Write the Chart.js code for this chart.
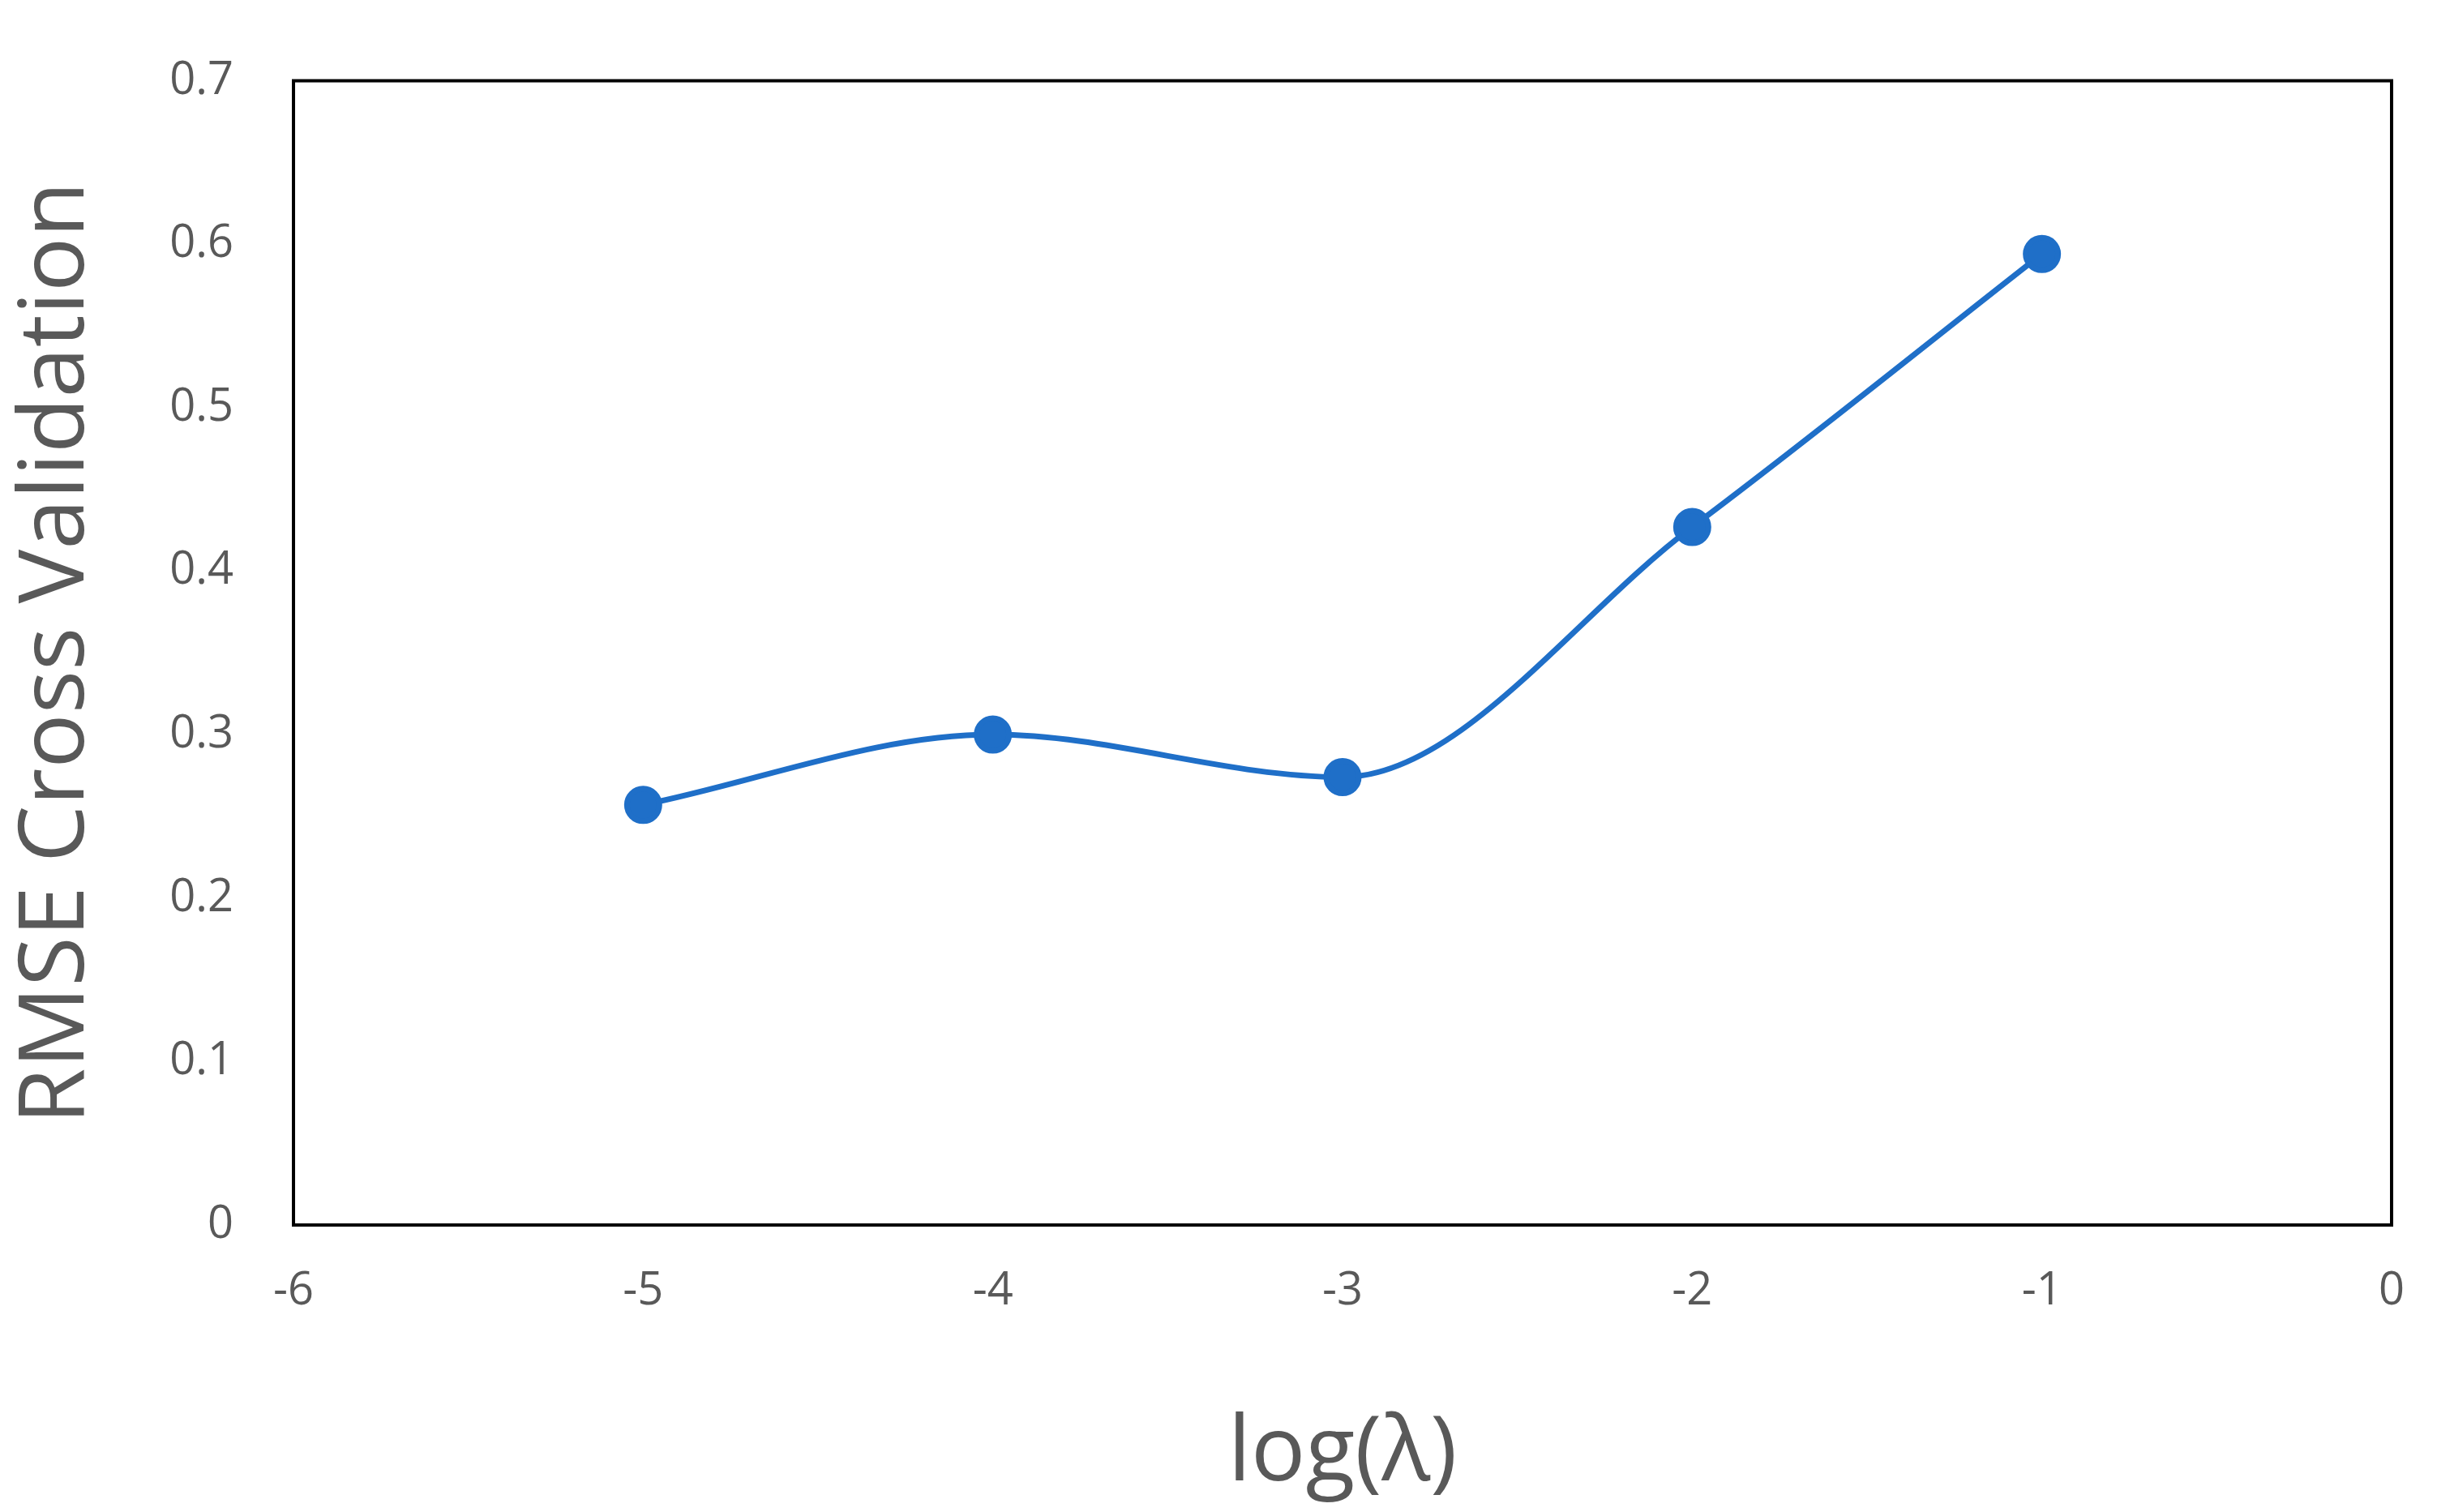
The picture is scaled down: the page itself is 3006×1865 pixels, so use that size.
<!DOCTYPE html>
<html><head><meta charset="utf-8">
<script src="https://cdn.jsdelivr.net/npm/chart.js@4/dist/chart.umd.min.js"></script>
<style>html,body{margin:0;padding:0;background:#fff}#w{width:3006px;height:1865px}</style>
</head><body><div id="w"><canvas id="c"></canvas></div>
<script>
const xValues = [-5, -4, -3, -2, -1];
const rmseValues = [0.257, 0.300, 0.274, 0.427, 0.594];
const xTitle = 'log(λ)';
const yTitle = 'RMSE Cross Validation';

const frame = {id:'frame', afterDatasetsDraw(ch){const a=ch.chartArea,c=ch.ctx;c.save();c.strokeStyle='#000';c.lineWidth=4;c.strokeRect(a.left,a.top,a.right-a.left,a.bottom-a.top);c.restore();}};
const tickFont = {family:'Open Sans', size:56};
new Chart(document.getElementById('c'), {
  type:'line',
  data:{datasets:[{data:xValues.map((x,i)=>({x, y:rmseValues[i]})), borderColor:'#1f6fc8', backgroundColor:'#1f6fc8', borderWidth:7, pointRadius:20, pointHoverRadius:20, tension:0.4, cubicInterpolationMode:'monotone', fill:false}]},
  options:{responsive:true, maintainAspectRatio:false, devicePixelRatio:1, animation:false,
    layout:{padding:{top:58, right:42, left:0, bottom:0}},
    plugins:{legend:{display:false}, tooltip:{enabled:false}},
    scales:{
      x:{type:'linear', min:-6, max:0, grid:{display:false}, border:{display:false},
        ticks:{stepSize:1, color:'#595959', font:tickFont, padding:40, maxRotation:0},
        title:{display:true, text:xTitle, color:'#595959', font:{family:'Open Sans', size:112}, padding:{top:30}},
        afterFit(s){s.height=354;}},
      y:{min:0, max:0.7, grid:{display:false}, border:{display:false},
        ticks:{stepSize:0.1, color:'#595959', font:tickFont, padding:66, callback:v=>Math.round(v*10)/10},
        title:{display:true, text:yTitle, color:'#595959', font:{family:'Open Sans', size:112}, padding:{bottom:0}},
        afterFit(s){s.width=362;}}
    }},
  plugins:[frame]
});
</script></body></html>
